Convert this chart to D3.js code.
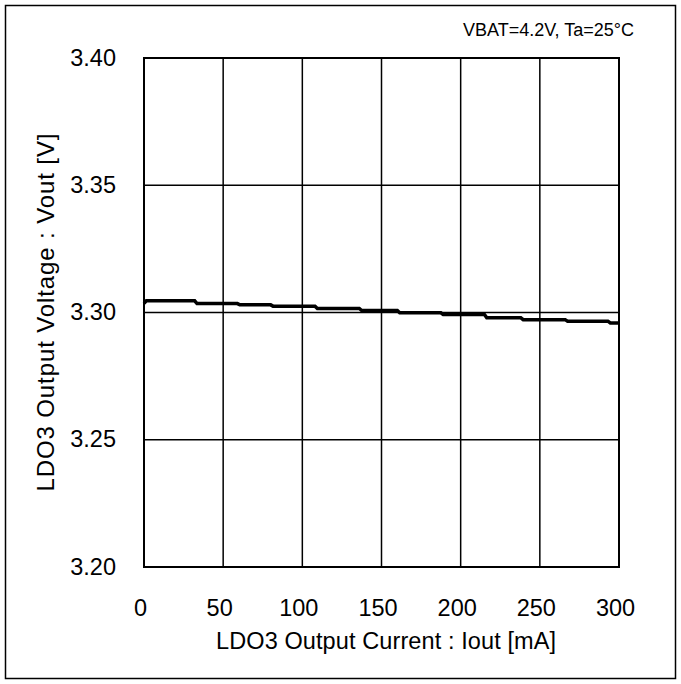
<!DOCTYPE html>
<html><head><meta charset="utf-8">
<script src="https://cdn.jsdelivr.net/npm/d3@7"></script>
<style>body{margin:0;background:#fff}svg{display:block}text{font-family:"Liberation Sans",Arial,sans-serif;fill:#000}</style>
</head><body>
<script>
const currents = [0, 1.5, 32, 33.5, 59, 60.5, 80, 81.5, 108, 109.5, 136, 137.5, 160, 161.5, 187.5, 189, 215, 216.5, 238, 239.5, 266, 267.5, 293, 294.5, 300];
const voltages = [3.3036, 3.3046, 3.3046, 3.3035, 3.3035, 3.3030, 3.3030, 3.3025, 3.3025, 3.3016, 3.3016, 3.3008, 3.3008, 3.2999, 3.2999, 3.2992, 3.2992, 3.2979, 3.2979, 3.2972, 3.2972, 3.2966, 3.2966, 3.2959, 3.2959];
const xTicks = [0, 50, 100, 150, 200, 250, 300];
const yTicks = [3.20, 3.25, 3.30, 3.35, 3.40];
const xTitle = "LDO3 Output Current : Iout [mA]";
const yTitle = "LDO3 Output Voltage : Vout [V]";
const condition = "VBAT=4.2V, Ta=25°C";

const W = 681, H = 684;
const FONT = '"Liberation Sans",Arial,sans-serif';
const svg = d3.select("body").append("svg").attr("width", W).attr("height", H);
svg.append("rect").attr("x", 5.5).attr("y", 5.5).attr("width", 670).attr("height", 673)
  .attr("fill", "none").attr("stroke", "#000").attr("stroke-width", 1.5);

const L = 144, R = 619, T = 58, B = 567;
const x = d3.scaleLinear().domain([0, 300]).range([L, R]);
const y = d3.scaleLinear().domain([3.20, 3.40]).range([B, T]);

svg.append("g").selectAll("line").data(xTicks.slice(1, -1)).join("line")
  .attr("x1", d => x(d)).attr("x2", d => x(d)).attr("y1", T).attr("y2", B)
  .attr("stroke", "#000").attr("stroke-width", 1.5);
svg.append("g").selectAll("line").data(yTicks.slice(1, -1)).join("line")
  .attr("x1", L).attr("x2", R).attr("y1", d => y(d)).attr("y2", d => y(d))
  .attr("stroke", "#000").attr("stroke-width", 1.5);

const xAxis = svg.append("g").attr("transform", `translate(-4,${B})`)
  .call(d3.axisBottom(x).tickValues(xTicks).tickFormat(d3.format("d")).tickSize(0).tickPadding(32));
const yAxis = svg.append("g").attr("transform", `translate(${L},0)`)
  .call(d3.axisLeft(y).tickValues(yTicks).tickFormat(d3.format(".2f")).tickSize(0).tickPadding(28));
[xAxis, yAxis].forEach(a => {
  a.select(".domain").remove();
  a.selectAll("text").attr("font-size", 23.5).attr("font-family", FONT).attr("fill", "#000");
});
yAxis.selectAll("text").attr("dy", "0.3em");

const pts = currents.map((c, i) => [c, voltages[i]]);
svg.append("path").datum(pts)
  .attr("d", d3.line().x(d => x(d[0])).y(d => y(d[1])))
  .attr("fill", "none").attr("stroke", "#000").attr("stroke-width", 3.5);

svg.append("rect").attr("x", L).attr("y", T).attr("width", R - L).attr("height", B - T)
  .attr("fill", "none").attr("stroke", "#000").attr("stroke-width", 2);

svg.append("text").attr("x", 386).attr("y", 649).attr("text-anchor", "middle")
  .attr("font-size", 23.5).attr("textLength", 340).attr("lengthAdjust", "spacing").text(xTitle);
svg.append("text").attr("transform", `translate(54,${(T + B) / 2}) rotate(-90)`)
  .attr("text-anchor", "middle").attr("font-size", 24)
  .attr("textLength", 358).attr("lengthAdjust", "spacing").text(yTitle);
svg.append("text").attr("x", 634).attr("y", 36).attr("text-anchor", "end")
  .attr("font-size", 18).text(condition);
</script>
</body></html>
